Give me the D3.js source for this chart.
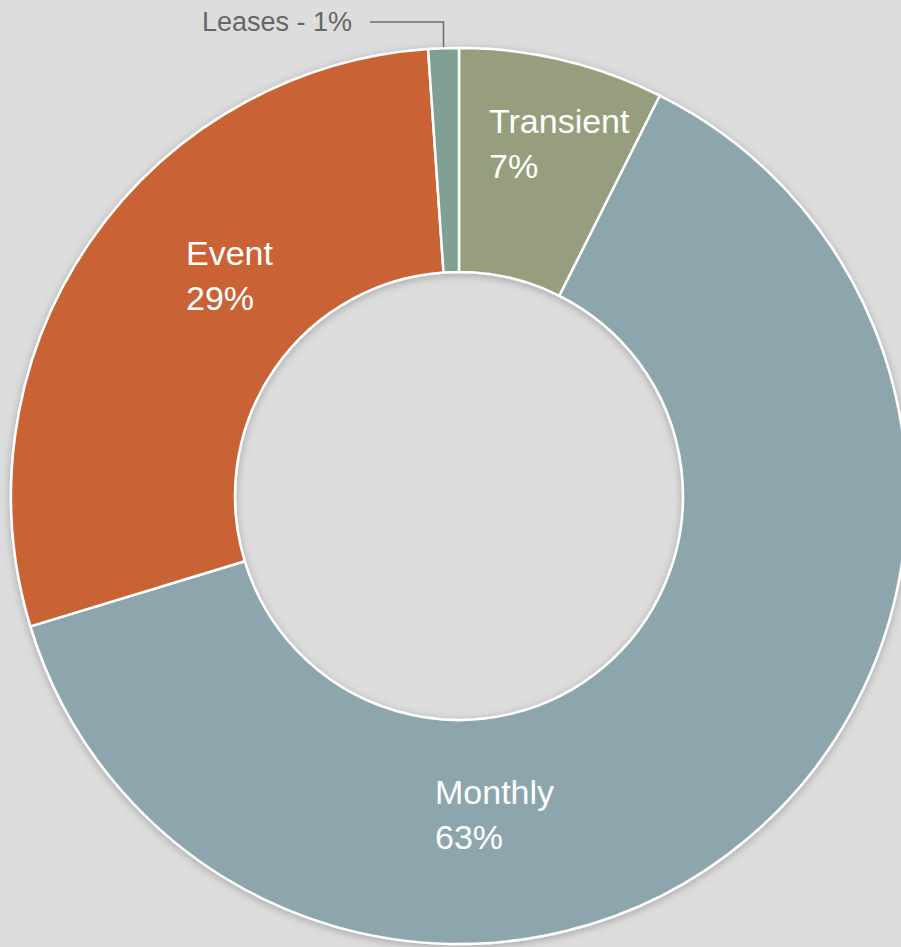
<!DOCTYPE html>
<html>
<head>
<meta charset="utf-8">
<script src="https://cdn.jsdelivr.net/npm/d3@7"></script>
<style>
  html, body { margin: 0; padding: 0; background: #dddddd; }
  svg { display: block; }
  .label { font-family: "Liberation Sans", Arial, sans-serif; fill: #ffffff; font-size: 34px; }
  .outside { font-family: "Liberation Sans", Arial, sans-serif; fill: #666666; font-size: 27px; }
</style>
</head>
<body>
<div id="chartDiv"></div>
<script>
// slices in clockwise order starting at 12 o'clock
let categories = ['Transient', 'Monthly', 'Event', 'Leases'];
let values = [7.4, 62.9, 28.6, 1.1];
let pctLabels = ['7%', '63%', '29%', '1%'];
let colors = ['#969e7e', '#8da6ad', '#c96434', '#7fa092'];

let width = 901, height = 947;
let cx = 459, cy = 496;
let outerR = 448, innerR = 224;

let svg = d3.select('#chartDiv')
    .append('svg')
    .attr('width', width)
    .attr('height', height);

// soft shadow like the original
let defs = svg.append('defs');
let f = defs.append('filter').attr('id', 'shadow')
    .attr('x', '-10%').attr('y', '-10%').attr('width', '120%').attr('height', '120%');
f.append('feDropShadow').attr('dx', 0).attr('dy', 2).attr('stdDeviation', 4)
    .attr('flood-color', '#000').attr('flood-opacity', 0.25);

let data = categories.map(function(c, i) {
    return {name: c, value: values[i], pct: pctLabels[i], color: colors[i]};
});

let pie = d3.pie().sort(null).value(function(d) {return d.value});
let arc = d3.arc().innerRadius(innerR).outerRadius(outerR);

let g = svg.append('g')
    .attr('transform', 'translate(' + cx + ',' + cy + ')');

g.append('g').attr('filter', 'url(#shadow)')
    .selectAll('path')
    .data(pie(data))
    .enter()
    .append('path')
    .attr('d', arc)
    .attr('fill', function(d) {return d.data.color})
    .attr('stroke', '#ffffff')
    .attr('stroke-width', 2.5)
    .attr('stroke-linejoin', 'round');

// inner labels, placed where PowerPoint put them (offsets from the center)
let labelPos = {
    Transient: [30, -363],
    Monthly: [-24, 308],
    Event: [-273, -231]
};
let lineGap = 45;

data.forEach(function(d) {
    let p = labelPos[d.name];
    if (!p) return;
    let t = g.append('text').attr('class', 'label')
        .attr('x', p[0]).attr('y', p[1]);
    t.append('tspan').attr('x', p[0]).attr('dy', 0).text(d.name);
    t.append('tspan').attr('x', p[0]).attr('dy', lineGap).text(d.pct);
});

// outside label for the tiny slice with a leader line
let leases = pie(data)[3];
let mid = (leases.startAngle + leases.endAngle) / 2;
let lx = outerR * Math.sin(mid);
let ly = -outerR * Math.cos(mid);
g.append('path')
    .attr('d', 'M' + lx + ',' + (ly - 1) + 'V' + (-474) + 'H' + (-89))
    .attr('fill', 'none')
    .attr('stroke', '#6e6e6e')
    .attr('stroke-width', 1.5);
g.append('text').attr('class', 'outside')
    .attr('x', -107).attr('y', -465)
    .attr('text-anchor', 'end')
    .text(leases.data.name + ' - ' + leases.data.pct);
</script>
</body>
</html>
